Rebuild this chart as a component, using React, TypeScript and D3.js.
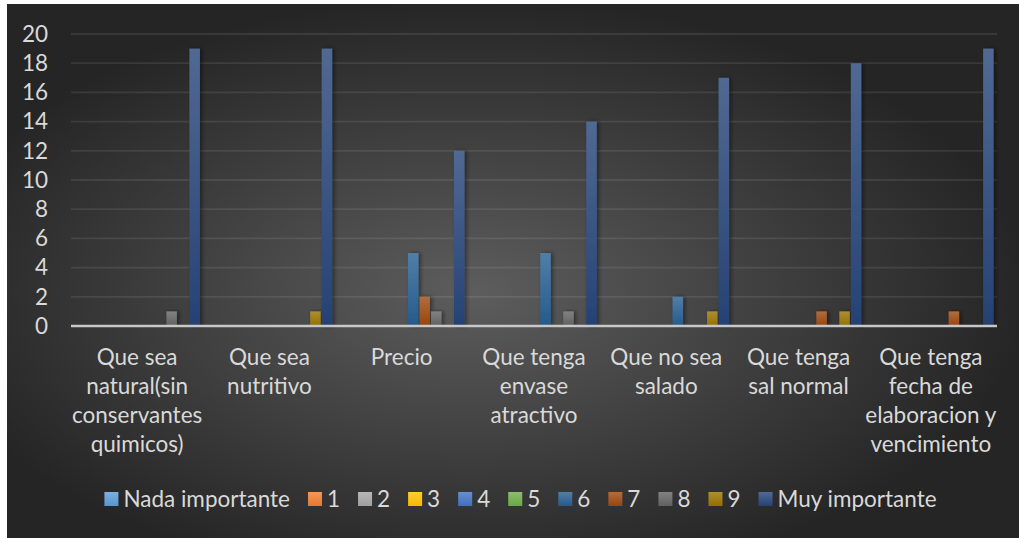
import React, { useEffect, useRef } from "react";
import * as d3 from "d3";

const categories = [
  "Que sea natural(sin conservantes quimicos)",
  "Que sea nutritivo",
  "Precio",
  "Que tenga envase atractivo",
  "Que no sea salado",
  "Que tenga sal normal",
  "Que tenga fecha de elaboracion y vencimiento",
];
const categoryLines = [
  ["Que sea", "natural(sin", "conservantes", "quimicos)"],
  ["Que sea", "nutritivo"],
  ["Precio"],
  ["Que tenga", "envase", "atractivo"],
  ["Que no sea", "salado"],
  ["Que tenga", "sal normal"],
  ["Que tenga", "fecha de", "elaboracion y", "vencimiento"],
];
const seriesNames = ["Nada importante", "1", "2", "3", "4", "5", "6", "7", "8", "9", "Muy importante"];
const nadaImportante = [0, 0, 0, 0, 0, 0, 0];
const s1 = [0, 0, 0, 0, 0, 0, 0];
const s2 = [0, 0, 0, 0, 0, 0, 0];
const s3 = [0, 0, 0, 0, 0, 0, 0];
const s4 = [0, 0, 0, 0, 0, 0, 0];
const s5 = [0, 0, 0, 0, 0, 0, 0];
const s6 = [0, 0, 5, 5, 2, 0, 0];
const s7 = [0, 0, 2, 0, 0, 1, 1];
const s8 = [1, 0, 1, 1, 0, 0, 0];
const s9 = [0, 1, 0, 0, 1, 1, 0];
const muyImportante = [19, 19, 12, 14, 17, 18, 19];
const seriesValues = [nadaImportante, s1, s2, s3, s4, s5, s6, s7, s8, s9, muyImportante];
const seriesColors = ["#5B9BD5", "#ED7D31", "#A5A5A5", "#FFC000", "#4472C4", "#70AD47", "#255E91", "#9E480E", "#636363", "#997300", "#264478"];
const yTicks = [0, 2, 4, 6, 8, 10, 12, 14, 16, 18, 20];

const W = 1019;
const H = 538;
const FONT = "Lato, 'Open Sans', sans-serif";
const FS = 22.5;
const TEXT = "#d9d9d9";

export default function App() {
  const ref = useRef<SVGSVGElement | null>(null);

  useEffect(() => {
    const svg = d3.select(ref.current);
    svg.selectAll("*").remove();

    const defs = svg.append("defs");
    const bg = defs.append("radialGradient").attr("id", "bg").attr("cx", 0.46).attr("cy", 0.54).attr("r", 0.55);
    bg.append("stop").attr("offset", 0).attr("stop-color", "#5d5d5d");
    bg.append("stop").attr("offset", 1).attr("stop-color", "#252525");

    seriesColors.forEach((c, i) => {
      const g = defs.append("linearGradient").attr("id", "g" + i).attr("x1", 0).attr("y1", 0).attr("x2", 0).attr("y2", 1);
      const top = d3.interpolateRgb(c, "#ffffff")(0.2);
      const bottom = d3.rgb(c).darker(0.1).toString();
      g.append("stop").attr("offset", 0).attr("stop-color", top);
      g.append("stop").attr("offset", 1).attr("stop-color", bottom);
    });
    const f = defs.append("filter").attr("id", "sh").attr("x", "-50%").attr("y", "-10%").attr("width", "200%").attr("height", "120%");
    f.append("feDropShadow").attr("dx", 2).attr("dy", 0).attr("stdDeviation", 2).attr("flood-color", "#000").attr("flood-opacity", 0.45);

    svg.append("rect").attr("x", 0).attr("y", 0).attr("width", W).attr("height", H).attr("fill", "#ffffff");
    svg.append("rect").attr("x", 7).attr("y", 4).attr("width", W - 7).attr("height", H - 4).attr("fill", "url(#bg)");

    const x = d3.scaleBand<string>().domain(categories).range([71, 997]).paddingInner(0).paddingOuter(0);
    const xs = d3.scaleBand<string>().domain(seriesNames).range([0, x.bandwidth()]).paddingInner(0).paddingOuter(0.25);
    const y = d3.scaleLinear().domain([0, 20]).range([326, 34]);

    // gridlines
    svg.append("g").selectAll("line").data(yTicks.filter((t) => t !== 0)).join("line")
      .attr("x1", 71).attr("x2", 997)
      .attr("y1", (d) => y(d)).attr("y2", (d) => y(d))
      .attr("stroke", "#ffffff").attr("stroke-opacity", 0.09).attr("stroke-width", 1.8);

    // y labels
    svg.append("g").selectAll("text").data(yTicks).join("text")
      .attr("x", 48).attr("y", (d) => y(d)).attr("dy", "0.35em")
      .attr("text-anchor", "end").attr("fill", TEXT)
      .attr("font-family", FONT).attr("font-size", FS)
      .text((d) => String(d));

    // bars
    const bars: { s: number; c: number; v: number }[] = [];
    seriesValues.forEach((vals, s) => vals.forEach((v, c) => { if (v > 0) bars.push({ s, c, v }); }));
    svg.append("g").selectAll("rect").data(bars).join("rect")
      .attr("x", (d) => (x(categories[d.c]) as number) + (xs(seriesNames[d.s]) as number) + 0.5)
      .attr("width", xs.bandwidth() - 1)
      .attr("y", (d) => y(d.v))
      .attr("height", (d) => y(0) - y(d.v))
      .attr("fill", (d) => `url(#g${d.s})`)
      .attr("filter", "url(#sh)");

    // baseline
    svg.append("line").attr("x1", 71).attr("x2", 997).attr("y1", y(0)).attr("y2", y(0))
      .attr("stroke", "#c8c8c8").attr("stroke-width", 2.4);

    // category labels
    const cl = svg.append("g");
    categories.forEach((cat, i) => {
      const cx = (x(cat) as number) + x.bandwidth() / 2;
      const t = cl.append("text").attr("text-anchor", "middle").attr("fill", TEXT)
        .attr("font-family", FONT).attr("font-size", FS);
      categoryLines[i].forEach((ln, j) => {
        t.append("tspan").attr("x", cx).attr("y", 365 + j * 29).text(ln);
      });
    });

    // legend
    const lg = svg.append("g");
    const items = seriesNames.map((name, i) => {
      const g = lg.append("g");
      g.append("rect").attr("x", 0).attr("y", -7).attr("width", 14).attr("height", 14).attr("fill", `url(#g${i})`);
      const t = g.append("text").attr("x", 19).attr("y", 0).attr("dy", "0.35em").attr("fill", TEXT)
        .attr("font-family", FONT).attr("font-size", FS).text(name);
      const w = 19 + (t.node() as SVGTextElement).getComputedTextLength();
      return { g, w };
    });
    const gap = 18;
    const total = d3.sum(items, (d) => d.w) + gap * (items.length - 1);
    let cur = 520.5 - total / 2;
    items.forEach((it) => {
      it.g.attr("transform", `translate(${cur},499)`);
      cur += it.w + gap;
    });
  }, []);

  return <svg ref={ref} width={W} height={H} style={{ position: "absolute", left: 0, top: 0, display: "block" }} />;
}
